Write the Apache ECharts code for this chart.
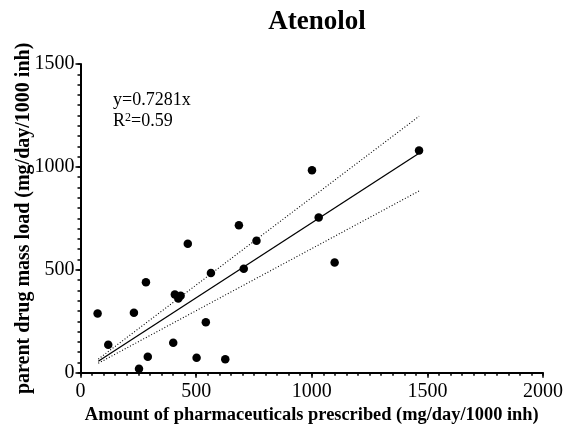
<!DOCTYPE html>
<html>
<head>
<meta charset="utf-8">
<script src="https://cdn.jsdelivr.net/npm/echarts@6/dist/echarts.min.js"></script>
<style>
  html, body { margin: 0; padding: 0; background: #fff; }
  #main { width: 567px; height: 428px; }
</style>
</head>
<body>
<div id="main"></div>
<script>
var prescribed = [74, 120, 231, 253, 283, 291, 401, 408, 423, 433, 464, 502, 542, 564, 626, 685, 706, 761, 1001, 1030, 1099, 1464];
var massLoad   = [288, 136, 291, 19, 440, 78, 146, 380, 361, 374, 626, 73, 245, 485, 65, 717, 505, 641, 984, 754, 536, 1080];

// fit line y=0.7281x and its dotted 95% band, end points
var fitX   = [77, 1464];
var fitY   = [56, 1066];
var upperY = [66, 1246];
var lowerY = [46, 883];

var xTicks = [0, 500, 1000, 1500, 2000];
var yTicks = [0, 500, 1000, 1500];

var serif = '"Liberation Serif", "Times New Roman", serif';

function pairs(xs, ys) {
    return xs.map(function (x, i) { return [x, ys[i]]; });
}

// second, label-less axis that only draws the small ticks every 50
function minorAxis(max, pos) {
    return {
        type: 'value',
        position: pos,
        min: 0,
        max: max,
        interval: 50,
        axisLine: { show: false },
        axisTick: { show: true, inside: false, length: 3, lineStyle: { color: '#000', width: 1.5 } },
        axisLabel: { show: false },
        splitLine: { show: false }
    };
}

var chart = echarts.init(document.getElementById('main'));

chart.setOption({
    animation: false,
    backgroundColor: '#fff',
    title: {
        text: 'Atenolol',
        left: 312,
        top: 4,
        textAlign: 'center',
        textStyle: { fontFamily: serif, fontWeight: 'bold', fontSize: 27, color: '#000' }
    },
    grid: { left: 80.5, right: 24, top: 64, bottom: 55.3, containLabel: false, outerBoundsMode: 'none' },
    xAxis: [{
        type: 'value',
        position: 'bottom',
        min: xTicks[0],
        max: xTicks[xTicks.length - 1],
        interval: 500,
        name: 'Amount of pharmaceuticals prescribed (mg/day/1000 inh)',
        nameLocation: 'middle',
        nameGap: 34,
        nameMoveOverlap: false,
        nameTextStyle: { fontFamily: serif, fontWeight: 'bold', fontSize: 18.4, color: '#000' },
        axisLine: { show: true, lineStyle: { color: '#000', width: 2 } },
        axisTick: { show: true, inside: false, length: 5, lineStyle: { color: '#000', width: 1.5 } },
        axisLabel: { fontFamily: serif, fontSize: 20, color: '#000', margin: 9, formatter: function (v) { return String(v); } },
        splitLine: { show: false },
        z: 3
    }, minorAxis(xTicks[xTicks.length - 1], 'bottom')],
    yAxis: [{
        type: 'value',
        position: 'left',
        min: yTicks[0],
        max: yTicks[yTicks.length - 1],
        interval: 500,
        name: 'parent drug mass load (mg/day/1000 inh)',
        nameLocation: 'middle',
        nameGap: 47,
        nameMoveOverlap: false,
        nameRotate: 90,
        nameTextStyle: { fontFamily: serif, fontWeight: 'bold', fontSize: 20, color: '#000' },
        axisLine: { show: true, lineStyle: { color: '#000', width: 2 } },
        axisTick: { show: true, inside: false, length: 5, lineStyle: { color: '#000', width: 1.5 } },
        axisLabel: { fontFamily: serif, fontSize: 20, color: '#000', margin: 6, formatter: function (v) { return String(v); } },
        splitLine: { show: false },
        z: 3
    }, minorAxis(yTicks[yTicks.length - 1], 'left')],
    graphic: [
        {
            type: 'text',
            left: 113,
            top: 91,
            style: { text: 'y=0.7281x', font: '18px ' + serif, fill: '#000' }
        },
        {
            type: 'text',
            left: 113,
            top: 112,
            style: {
                text: 'R{sup|2}=0.59',
                font: '18px ' + serif,
                fill: '#000',
                rich: {
                    sup: { fontSize: 12, fontFamily: serif, verticalAlign: 'top', padding: [0, 0, 6, 0] }
                }
            }
        }
    ],
    series: [
        {
            type: 'scatter',
            data: pairs(prescribed, massLoad),
            symbol: 'circle',
            symbolSize: 8.5,
            itemStyle: { color: '#000', opacity: 1 },
            z: 5
        },
        {
            type: 'line',
            data: pairs(fitX, fitY),
            symbol: 'none',
            lineStyle: { color: '#000', width: 1.3 }
        },
        {
            type: 'line',
            data: pairs(fitX, upperY),
            symbol: 'none',
            lineStyle: { color: '#000', width: 1.1, type: [1, 2] }
        },
        {
            type: 'line',
            data: pairs(fitX, lowerY),
            symbol: 'none',
            lineStyle: { color: '#000', width: 1.1, type: [1, 2] }
        }
    ]
});
</script>
</body>
</html>
